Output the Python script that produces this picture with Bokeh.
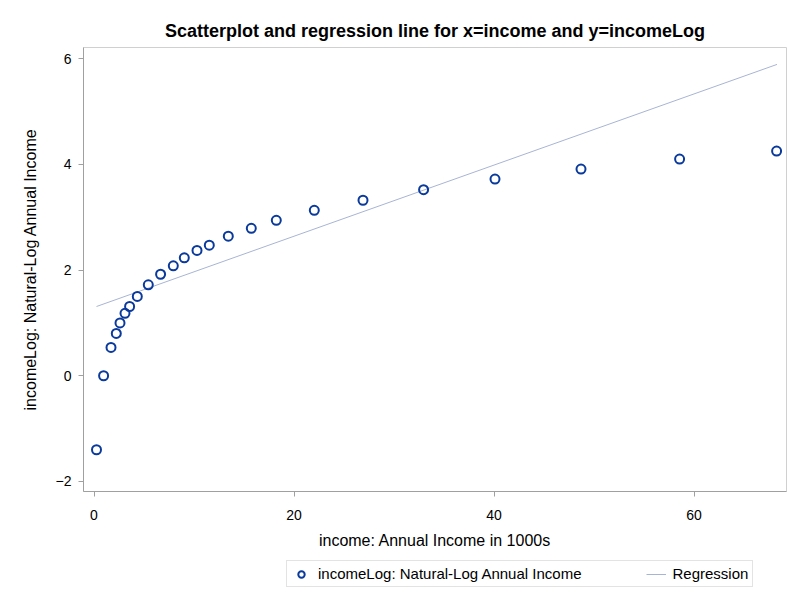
from bokeh.plotting import figure
from bokeh.models import Range1d, Legend, LegendItem, FixedTicker
from bokeh.layouts import column
from bokeh.embed import file_html
from bokeh.resources import INLINE

income = [0.25, 0.96, 1.7, 2.23, 2.6, 3.1, 3.56, 4.33, 5.43, 6.66, 7.93, 9.03,
          10.3, 11.53, 13.43, 15.73, 18.23, 22.03, 26.9, 32.96, 40.1, 48.7, 58.56, 68.26]
income_log = [-1.40, 0.0, 0.536, 0.80, 1.0, 1.18, 1.31, 1.50, 1.72, 1.92, 2.08, 2.23,
              2.37, 2.47, 2.64, 2.79, 2.94, 3.13, 3.32, 3.52, 3.72, 3.91, 4.10, 4.25]
reg_x = [0.25, 68.3]
reg_y = [1.31, 5.89]
x_ticks = [0, 20, 40, 60]
y_ticks = [-2, 0, 2, 4, 6]

FONT = "Liberation Sans"
PT_COLOR = "#0a3a9c"
REG_COLOR = "#a8b4d4"

p = figure(frame_width=703, frame_height=444, output_backend="svg", toolbar_location=None,
           x_range=Range1d(-1.05, 69.25), y_range=Range1d(-2.19, 6.21),
           min_border_left=83, min_border_right=9, min_border_top=47, min_border_bottom=64,
           title="Scatterplot and regression line for x=income and y=incomeLog")

p.title.align = "center"
p.title.text_font = FONT
p.title.text_font_size = "18px"
p.title.text_font_style = "bold"
p.title.text_color = "#000000"
p.title.standoff = 13

p.grid.visible = False
p.outline_line_color = "#d0d0d0"
p.outline_line_width = 1
p.background_fill_color = "white"
p.border_fill_color = "white"

for ax in (p.xaxis[0], p.yaxis[0]):
    ax.axis_line_color = "#a0a0a0"
    ax.major_tick_line_color = "#a0a0a0"
    ax.minor_tick_line_color = None
    ax.major_tick_out = 5
    ax.major_tick_in = 0
    ax.major_label_text_font = FONT
    ax.major_label_text_font_size = "14px"
    ax.major_label_text_color = "#000000"
    ax.axis_label_text_font = FONT
    ax.axis_label_text_font_size = "16px"
    ax.axis_label_text_font_style = "normal"
    ax.axis_label_text_color = "#000000"

p.xaxis[0].ticker = FixedTicker(ticks=x_ticks)
p.yaxis[0].ticker = FixedTicker(ticks=y_ticks)
p.xaxis[0].axis_label = "income: Annual Income in 1000s"
p.yaxis[0].axis_label = "incomeLog: Natural-Log Annual Income"
p.xaxis[0].major_label_standoff = 13
p.xaxis[0].axis_label_standoff = 9
p.yaxis[0].major_label_standoff = 7
p.yaxis[0].axis_label_standoff = 14

p.line(reg_x, reg_y, line_color=REG_COLOR, line_width=1)
p.scatter(income, income_log, marker="circle", size=9, fill_color=None,
          line_color=PT_COLOR, line_width=2)

# legend strip below the chart (glyphs out of its view, only legend shown)
p2 = figure(width=795, height=46, output_backend="svg", toolbar_location=None,
            x_range=Range1d(1000, 1001), y_range=Range1d(1000, 1001),
            min_border=0, min_border_left=0, min_border_right=0,
            min_border_top=0, min_border_bottom=0,
            x_axis_location=None, y_axis_location=None)
p2.grid.visible = False
p2.outline_line_color = None
p2.background_fill_color = "white"
p2.border_fill_color = "white"

reg2 = p2.line(reg_x, reg_y, line_color=REG_COLOR, line_width=1)
pts2 = p2.scatter(income, income_log, marker="circle", size=9, fill_color=None,
                  line_color=PT_COLOR, line_width=2)

legend = Legend(items=[LegendItem(label="incomeLog: Natural-Log Annual Income", renderers=[pts2]),
                       LegendItem(label="Regression", renderers=[reg2])],
                orientation="horizontal", location=(203, 14),
                label_text_font=FONT, label_text_font_size="15px", label_text_color="#000000",
                border_line_color="#c8c8c8", border_line_width=1,
                padding=4, spacing=64, glyph_width=20, glyph_height=16,
                label_standoff=7, label_height=16, margin=0,
                background_fill_color="white", background_fill_alpha=1)
p2.add_layout(legend, "center")

layout = column(p, p2, spacing=0)
open("out.html", "w").write(file_html(layout, INLINE))
